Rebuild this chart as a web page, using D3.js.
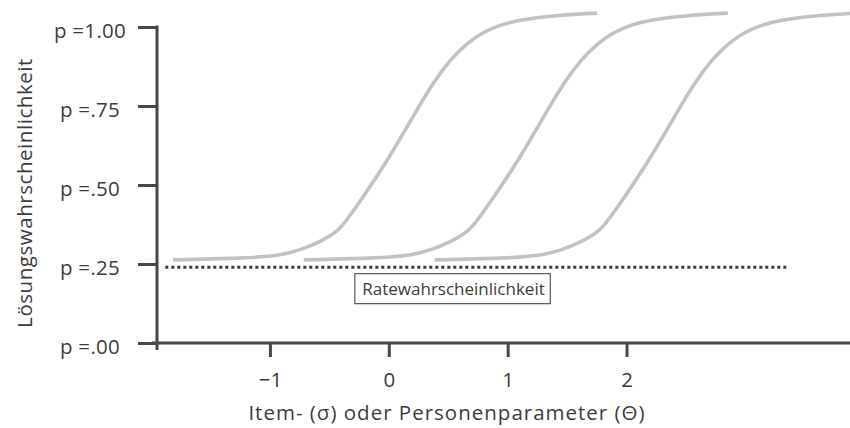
<!DOCTYPE html>
<html><head><meta charset="utf-8">
<script src="https://cdn.jsdelivr.net/npm/d3@7"></script>
<style>
html,body{margin:0;padding:0;background:#fff;}
svg{display:block;font-family:"Open Sans",sans-serif;}
</style></head>
<body>
<svg id="chart" width="850" height="428"></svg>
<script>
// ---- data ----
const yTicks = [0, 0.25, 0.5, 0.75, 1.0];
const yTickLabels = ["p =.00", "p =.25", "p =.50", "p =.75", "p =1.00"];
const xTicks = [-1, 0, 1, 2];
const xTickLabels = ["\u22121", "0", "1", "2"];
// theta values and solution probabilities
const curve1Theta = [-1.815, -1.168, -0.915, -0.747, -0.579, -0.436, -0.352, -0.217, -0.007, 0.246, 0.372, 0.515, 0.658, 0.793, 0.936, 1.087, 1.440, 1.752];
const curve1P     = [0.263, 0.269, 0.277, 0.294, 0.320, 0.351, 0.389, 0.462, 0.579, 0.744, 0.823, 0.896, 0.949, 0.984, 1.006, 1.022, 1.038, 1.044];
const curve2Theta = [-0.715, -0.068, 0.185, 0.353, 0.521, 0.664, 0.748, 0.883, 1.093, 1.346, 1.472, 1.615, 1.758, 1.893, 2.036, 2.187, 2.540, 2.852];
const curve2P     = [0.263, 0.269, 0.277, 0.294, 0.320, 0.351, 0.389, 0.462, 0.579, 0.744, 0.823, 0.896, 0.949, 0.984, 1.006, 1.022, 1.038, 1.044];
const curve3Theta = [0.385, 1.032, 1.285, 1.453, 1.621, 1.764, 1.848, 1.983, 2.193, 2.446, 2.572, 2.715, 2.858, 2.993, 3.136, 3.287, 3.640, 3.952];
const curve3P     = [0.263, 0.269, 0.277, 0.294, 0.320, 0.351, 0.389, 0.462, 0.579, 0.744, 0.823, 0.896, 0.949, 0.984, 1.006, 1.022, 1.038, 1.044];
const guessTheta = [-1.88, 3.36];
const guessP = 0.24;
const guessLabel = "Ratewahrscheinlichkeit";
const xTitle = "Item- (\u03c3) oder Personenparameter (\u0398)";
const yTitle = "Lösungswahrscheinlichkeit";

// ---- layout ----
const svg = d3.select("#chart");
const W = 850, H = 428;
const x = d3.scaleLinear().domain([-1.95, 3.88]).range([157, 850]);
const y = d3.scaleLinear().domain([0, 1]).range([343, 27]);
const axisColor = "#474747";
const textColor = "#3c3c3c";

// curves
const curves = [
  d3.zip(curve1Theta, curve1P),
  d3.zip(curve2Theta, curve2P),
  d3.zip(curve3Theta, curve3P)
];
const line = d3.line().x(d => x(d[0])).y(d => y(d[1])).curve(d3.curveBasis);
svg.append("g").selectAll("path").data(curves).join("path")
  .attr("d", line)
  .attr("fill", "none")
  .attr("stroke", "#c2c2c2")
  .attr("stroke-width", 3.6)
  .attr("stroke-linecap", "butt");

// guessing line
svg.append("line")
  .attr("x1", x(guessTheta[0])).attr("x2", x(guessTheta[1]))
  .attr("y1", y(guessP)).attr("y2", y(guessP))
  .attr("stroke", "#3a3a3a").attr("stroke-width", 3)
  .attr("stroke-dasharray", "3,3");

// label box
const lbl = svg.append("g").attr("transform", `translate(${x(-0.29)},${y(guessP) + 6})`);
const lt = lbl.append("text").attr("x", 8).attr("y", 22)
  .attr("font-size", 17).attr("fill", textColor).text(guessLabel);
const bb = lt.node().getBBox();
lbl.insert("rect", "text").attr("x", 0.5).attr("y", 0.5)
  .attr("width", bb.width + 13).attr("height", 30)
  .attr("fill", "#fff").attr("stroke", "#555").attr("stroke-width", 1.2);

// y axis
const yAxis = d3.axisLeft(y).tickValues(yTicks).tickSize(19)
  .tickFormat((d, i) => yTickLabels[i]);
const gy = svg.append("g").attr("transform", `translate(${x.range()[0]},0)`).call(yAxis);
gy.select(".domain").remove();
gy.selectAll(".tick line").attr("stroke", axisColor).attr("stroke-width", 3);
gy.selectAll(".tick text").attr("font-size", 20.5).attr("fill", textColor)
  .attr("text-anchor", "middle").attr("x", -67).attr("y", 3).attr("dy", "0.35em")
  .style("letter-spacing", "0.3px")
  .style("font-family", "Open Sans, sans-serif");
svg.append("line").attr("x1", x.range()[0]).attr("x2", x.range()[0])
  .attr("y1", y(1) - 1.5).attr("y2", y(0) + 7)
  .attr("stroke", axisColor).attr("stroke-width", 3);

// x axis
const xAxis = d3.axisBottom(x).tickValues(xTicks).tickSize(14)
  .tickFormat((d, i) => xTickLabels[i]);
const gx = svg.append("g").attr("transform", `translate(0,${y(0)})`).call(xAxis);
gx.select(".domain").remove();
gx.selectAll(".tick line").attr("stroke", axisColor).attr("stroke-width", 3);
gx.selectAll(".tick text").attr("font-size", 20.5).attr("fill", textColor)
  .attr("y", 44).attr("dy", "0")
  .style("font-family", "Open Sans, sans-serif");
svg.append("line").attr("x1", x.range()[0] - 5).attr("x2", W)
  .attr("y1", y(0)).attr("y2", y(0))
  .attr("stroke", axisColor).attr("stroke-width", 3);

// titles
svg.append("text").attr("x", 447).attr("y", 420).attr("text-anchor", "middle")
  .attr("font-size", 20.5).style("letter-spacing", "1px").attr("fill", textColor).text(xTitle);
svg.append("text").attr("transform", `translate(32,193) rotate(-90)`)
  .attr("text-anchor", "middle").attr("font-size", 20.5).style("letter-spacing", "0.55px")
  .attr("fill", textColor).text(yTitle);
</script>
</body></html>
